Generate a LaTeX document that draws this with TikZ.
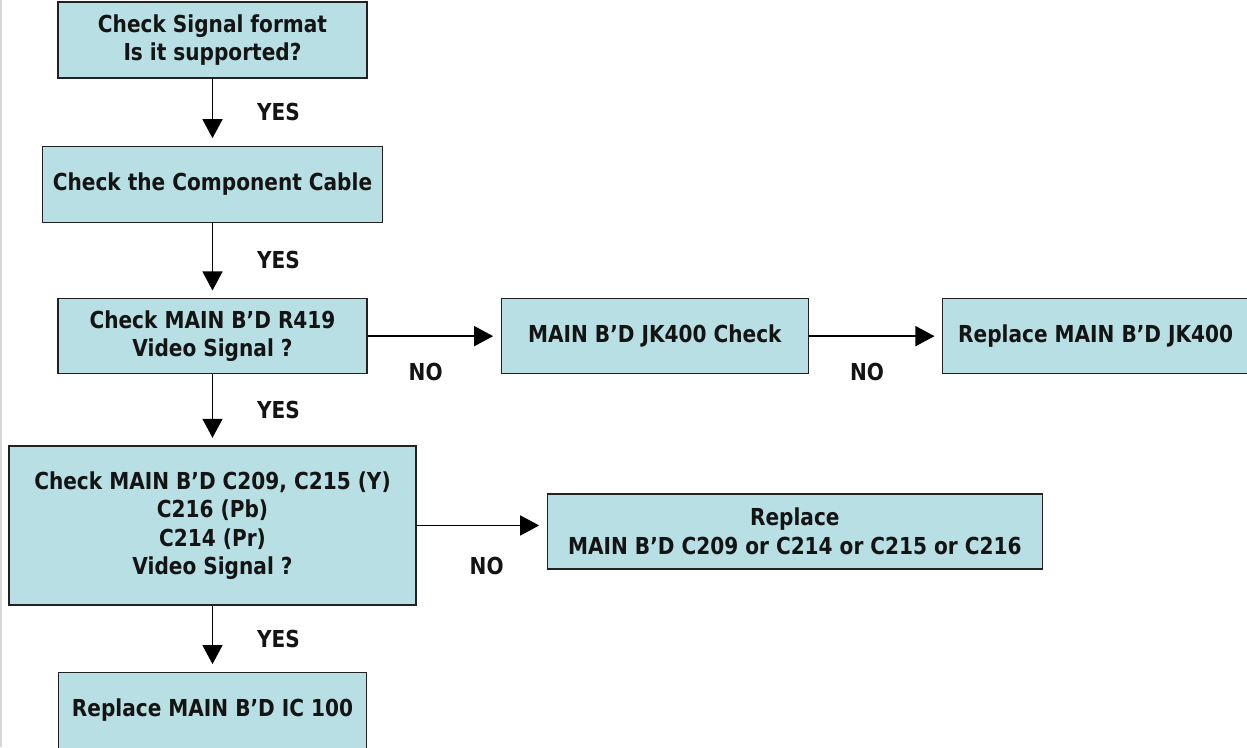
\documentclass[tikz,border=0pt]{standalone}
\usepackage{fontspec}
\newfontfamily\flowfont{DejaVu Sans}[FakeStretch=0.86]
\usepackage{xcolor}
\definecolor{boxfill}{RGB}{184,223,227}
\definecolor{boxline}{RGB}{34,34,34}
\definecolor{textdark}{RGB}{20,20,20}
\definecolor{edgegray}{RGB}{215,215,215}
\usepackage{tikz}
\usetikzlibrary{arrows.meta, positioning}

\begin{document}
\begin{tikzpicture}[
    box/.style={
        rectangle, draw=boxline, line width=0.75pt, fill=boxfill,
        minimum width=6.18cm, minimum height=1.52cm, inner sep=0pt,
        align=center, text=textdark,
        font=\flowfont\bfseries\fontsize{13.3}{16.2}\selectfont
    },
    arr/.style={-{Triangle[length=0.38cm, width=0.4cm]}, line width=0.8pt,
        shorten >=0.15cm},
    lab/.style={font=\flowfont\bfseries\fontsize{13.3}{16.2}\selectfont,
        text=textdark, inner sep=0pt},
    yes/.style={lab, midway, xshift=1.32cm},
    no/.style={lab, midway, xshift=-0.17cm, yshift=-0.72cm}
]
\useasboundingbox (0,0) rectangle (24.94,-14.94);
\draw[line width=1.2pt, edgegray] (0.02,0) -- (0.02,-14.94);

% --- Nodes ---
\node[box] (fmt) at (4.25,-0.8) {Check Signal format\\Is it supported?};
\node[box, minimum width=6.8cm, below=1.34cm of fmt] (cable)
    {Check the Component Cable};
\node[box, minimum height=1.5cm, below=1.5cm of cable] (rchk)
    {Check MAIN B’D R419\\Video Signal ?};
\node[box, minimum width=6.14cm, minimum height=1.5cm, right=2.66cm of rchk] (jkchk)
    {MAIN B’D JK400 Check};
\node[box, minimum width=6.12cm, minimum height=1.5cm, right=2.66cm of jkchk] (jkrep)
    {Replace MAIN B’D JK400};
\node[box, minimum width=8.14cm, minimum height=3.18cm, below=1.42cm of rchk] (cchk)
    {Check MAIN B’D C209, C215 (Y)\\C216 (Pb)\\C214 (Pr)\\Video Signal ?};
\node[box, minimum width=9.9cm, minimum height=1.5cm, right=2.6cm of cchk,
    yshift=-0.12cm] (crep)
    {Replace\\MAIN B’D C209 or C214 or C215 or C216};
\node[box, minimum width=6.16cm, below=1.32cm of cchk] (icrep)
    {Replace MAIN B’D IC 100};

% 1. YES branches down the left column
\draw[arr] (fmt) -- node[yes] {YES} (cable);
\draw[arr] (cable) -- node[yes] {YES} (rchk);
\draw[arr] (rchk) -- node[yes] {YES} (cchk);
\draw[arr] (cchk) -- node[yes] {YES} (icrep);

% 2. NO branches to the right
\draw[arr] (rchk.east) -- node[no] {NO} (jkchk.west);
\draw[arr] (jkchk.east) -- node[no] {NO} (jkrep.west);
\draw[arr] (cchk.east) -- node[no, xshift=0.27cm, yshift=-0.1cm] {NO}
    (cchk.east -| crep.west);

\end{tikzpicture}
\end{document}
